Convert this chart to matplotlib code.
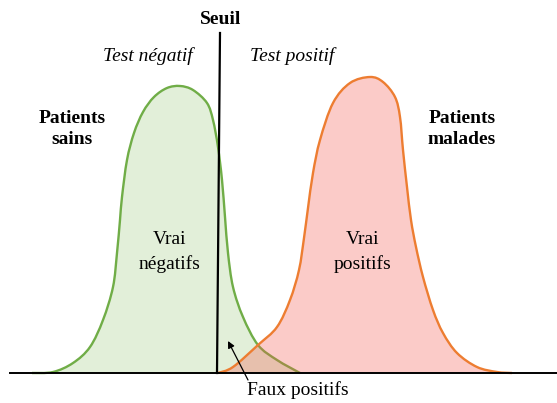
import matplotlib
matplotlib.use("Agg")
import matplotlib.pyplot as plt
from matplotlib.path import Path
from matplotlib.patches import PathPatch

plt.rcParams['font.family'] = ['Liberation Serif', 'DejaVu Serif']

# healthy patients curve (x, height above baseline)
sains_x = [32, 53, 73, 90, 103, 113, 117, 120, 122, 127, 134, 143, 154, 167, 180, 193,
           207, 213, 218, 222, 225, 228, 233, 243, 258, 277, 300]
sains_h = [0, 1, 10, 26, 53, 86, 120, 153, 176, 213, 240, 261, 276, 285, 287, 283,
           270, 253, 226, 193, 156, 120, 86, 56, 28, 13, 0]

# sick patients curve
malades_x = [218, 233, 258, 277, 290, 299, 304, 308, 313, 320, 333, 350, 370, 383, 395,
             400, 403, 407, 411, 416, 423, 433, 443, 457, 477, 497, 512]
malades_h = [0, 6, 28, 46, 73, 103, 135, 165, 200, 233, 270, 290, 296, 291, 276,
             256, 223, 186, 153, 126, 96, 63, 40, 20, 6, 1, 0]

seuil_x = [220, 217]
seuil_h = [340, 0]


def smooth_path(xs, ys, closed=False):
    # catmull-rom through the points, drawn as cubic bezier segments
    pts = list(zip(xs, ys))
    verts = [pts[0]]
    codes = [Path.MOVETO]
    n = len(pts)
    for i in range(n - 1):
        p0 = pts[max(i - 1, 0)]
        p1 = pts[i]
        p2 = pts[i + 1]
        p3 = pts[min(i + 2, n - 1)]
        c1 = (p1[0] + (p2[0] - p0[0]) / 6, p1[1] + (p2[1] - p0[1]) / 6)
        c2 = (p2[0] - (p3[0] - p1[0]) / 6, p2[1] - (p3[1] - p1[1]) / 6)
        verts += [c1, c2, p2]
        codes += [Path.CURVE4] * 3
    if closed:
        verts.append(pts[0])
        codes.append(Path.CLOSEPOLY)
    return Path(verts, codes)


fig = plt.figure(figsize=(5.57, 4.03), dpi=100)
ax = fig.add_axes([0, 0, 1, 1])
ax.set_xlim(0, 557)
ax.set_ylim(-30, 373)
ax.axis('off')

green = '#70AD47'
orange = '#ED7D31'

ax.add_patch(PathPatch(smooth_path(sains_x, sains_h, True), fc='#E2EFD9', ec='none', zorder=1))
ax.add_patch(PathPatch(smooth_path(sains_x, sains_h), fc='none', ec=green, lw=1.7, zorder=2))
ax.add_patch(PathPatch(smooth_path(malades_x, malades_h, True), fc='#F5554A', alpha=0.3,
                       ec='none', zorder=3))
ax.add_patch(PathPatch(smooth_path(malades_x, malades_h), fc='none', ec=orange, lw=1.7, zorder=4))

ax.plot([10, 557], [0, 0], color='black', lw=1.4, zorder=5)
ax.plot(seuil_x, seuil_h, color='black', lw=1.6, zorder=6)

fs = 14
ax.text(221, 353, 'Seuil', ha='center', va='center', fontsize=fs, fontweight='bold')
ax.text(148, 317, 'Test négatif', ha='center', va='center', fontsize=fs, style='italic')
ax.text(292, 317, 'Test positif', ha='center', va='center', fontsize=fs, style='italic')
ax.text(72, 244, 'Patients\nsains', ha='center', va='center', fontsize=fs,
        fontweight='bold', linespacing=1.3)
ax.text(462, 244, 'Patients\nmalades', ha='center', va='center', fontsize=fs,
        fontweight='bold', linespacing=1.3)
ax.text(170, 121, 'Vrai\nnégatifs', ha='center', va='center', fontsize=fs, linespacing=1.45)
ax.text(363, 121, 'Vrai\npositifs', ha='center', va='center', fontsize=fs, linespacing=1.45)
ax.text(298, -17, 'Faux positifs', ha='center', va='center', fontsize=fs)

ax.annotate('', xy=(228, 32), xytext=(248, -7),
            arrowprops=dict(arrowstyle='-|>', color='black', lw=0.9,
                            mutation_scale=10, shrinkA=0, shrinkB=0), zorder=7)

fig.savefig('out.png', dpi=100)
